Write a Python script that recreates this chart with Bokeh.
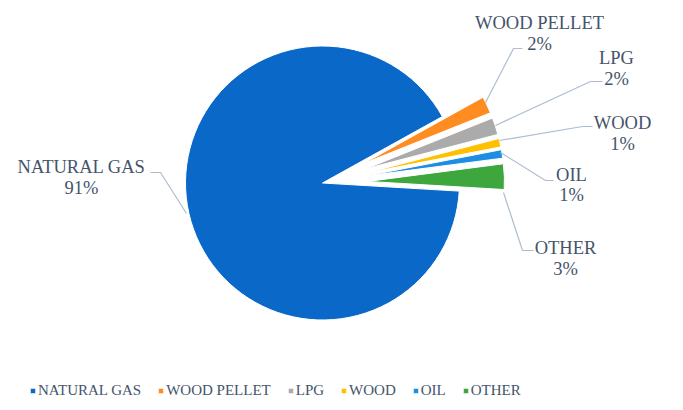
import numpy as np
from bokeh.plotting import figure
from bokeh.models import ColumnDataSource, Range1d, Legend, LegendItem
from bokeh.core.properties import value
from bokeh.embed import file_html
from bokeh.resources import INLINE

# ---- data ----
categories = ["NATURAL GAS", "WOOD PELLET", "LPG", "WOOD", "OIL", "OTHER"]
shares = [91, 2, 2, 1, 1, 3]
pct_labels = ["91%", "2%", "2%", "1%", "1%", "3%"]

# ---- style / layout ----
colors = ["#0968C8", "#FF8C21", "#ABABAB", "#FFC000", "#1C8FE2", "#3DA63D"]
explode = [0, 45, 45, 45, 45, 45]
first_angle = -3.4          # degrees (math convention), slices go clockwise
W, H = 683, 410
IMG_H = 410
cx, cy_img, radius = 322, 182.5, 137
TXT = "#44546A"
LINE = "#ADBDCF"
FONT = "Liberation Serif"

def Y(img_y):
    return IMG_H - img_y

# label positions (image coords): name line center, pct line center
label_pos = [(81, 166, 187), (539, 22, 43), (616, 57.5, 78), (622, 122.5, 143),
             (571, 174, 194), (565, 247.5, 268.5)]
leaders = [
    [(150, 172), (160, 172), (186, 213)],
    [(522, 48), (513, 48), (485, 102)],
    [(602, 81), (590, 81), (495, 125)],
    [(592, 126), (582, 126), (499, 140)],
    [(553, 180), (545, 180), (500, 152)],
    [(533, 250), (522, 250), (503, 192)],
]

vals = np.array(shares, dtype=float)
frac = vals / vals.sum()
after = np.cumsum(frac)
before = after - frac
start_r = np.deg2rad(first_angle - after * 360)
end_r = np.deg2rad(first_angle - before * 360)
mid = (start_r + end_r) / 2
xs = cx + np.array(explode) * np.cos(mid)
ys = Y(cy_img) + np.array(explode) * np.sin(mid)

src = ColumnDataSource(dict(x=xs, y=ys, start=start_r, end=end_r,
                            color=colors, name=categories))

p = figure(width=W, height=H, output_backend="svg", toolbar_location=None,
           x_range=Range1d(0, W), y_range=Range1d(IMG_H - H, IMG_H),
           min_border=0, outline_line_color=None)
p.axis.visible = False
p.grid.visible = False
p.background_fill_color = "white"

r = p.wedge(x="x", y="y", radius=radius, start_angle="start", end_angle="end",
            fill_color="color", line_color="white", line_width=1, source=src)

# leader lines
p.multi_line(xs=[[pt[0] for pt in l] for l in leaders],
             ys=[[Y(pt[1]) for pt in l] for l in leaders],
             line_color=LINE, line_width=1.2)

# labels
p.text(x=[lp[0] for lp in label_pos], y=[Y(lp[1]) for lp in label_pos], text=categories,
       text_font=value(FONT), text_font_size="18.5px", text_color=TXT,
       text_align="center", text_baseline="middle")
p.text(x=[lp[0] for lp in label_pos], y=[Y(lp[2]) for lp in label_pos], text=pct_labels,
       text_font=value(FONT), text_font_size="18.5px", text_color=TXT,
       text_align="center", text_baseline="middle")

items = [LegendItem(label=categories[i], renderers=[r], index=i) for i in range(len(categories))]
legend = Legend(items=items, orientation="horizontal", location=(29, 11),
                glyph_width=7, glyph_height=7, label_standoff=2, spacing=16,
                label_text_font=FONT, label_text_font_size="15px", label_text_color=TXT,
                label_height=16, padding=0, margin=0,
                border_line_color=None, background_fill_alpha=0)
p.add_layout(legend)

open("out.html", "w").write(file_html(p, INLINE))
